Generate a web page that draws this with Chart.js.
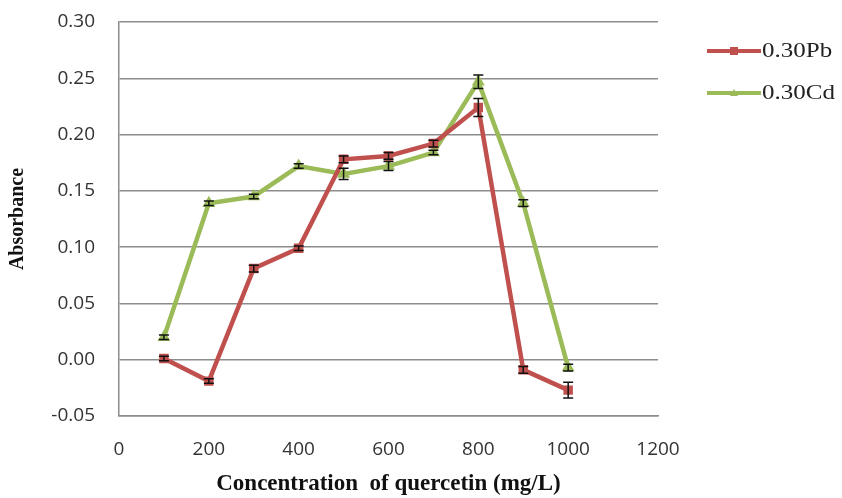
<!DOCTYPE html>
<html>
<head>
<meta charset="utf-8">
<script src="https://cdn.jsdelivr.net/npm/chart.js@4.4.1/dist/chart.umd.min.js"></script>
<style>
  html, body { margin: 0; padding: 0; background: #fff; }
  #wrap { width: 842px; height: 498px; }
</style>
</head>
<body>
<div id="wrap"><canvas id="myChart" width="842" height="498"></canvas></div>
<script>
// data
const concentrations = [100, 200, 300, 400, 500, 600, 700, 800, 900, 1000]
const pbValues = [0.001, -0.019, 0.081, 0.099, 0.178, 0.181, 0.192, 0.224, -0.009, -0.027]
const pbErrors = [0.002, 0.002, 0.003, 0.002, 0.003, 0.003, 0.003, 0.008, 0.003, 0.007]
const cdValues = [0.020, 0.139, 0.145, 0.172, 0.165, 0.172, 0.184, 0.247, 0.139, -0.007]
const cdErrors = [0.002, 0.002, 0.002, 0.002, 0.005, 0.004, 0.002, 0.006, 0.003, 0.003]
const seriesLabels = ['0.30Pb', '0.30Cd']

const red = '#c0504d'
const green = '#9bbb59'
const gridColor = '#8c8c8c'

const toPoints = (xs, ys) => xs.map((x, i) => ({ x, y: ys[i] }))

// error bars drawn with the chart's own scales
const errorBars = {
    id: 'errorBars',
    afterDatasetsDraw(chart) {
        const { ctx, scales: { x, y } } = chart;
        ctx.save();
        ctx.strokeStyle = '#111';
        ctx.lineWidth = 1.5;
        chart.data.datasets.forEach((ds) => {
            ds.data.forEach((p, i) => {
                const e = ds.errors[i];
                const px = x.getPixelForValue(p.x);
                const top = y.getPixelForValue(p.y + e);
                const bot = y.getPixelForValue(p.y - e);
                ctx.beginPath();
                ctx.moveTo(px, top); ctx.lineTo(px, bot);
                ctx.moveTo(px - 5, top); ctx.lineTo(px + 5, top);
                ctx.moveTo(px - 5, bot); ctx.lineTo(px + 5, bot);
                ctx.stroke();
            });
        });
        ctx.restore();
    }
}

// legend on the right, line + marker + text
const sideLegend = {
    id: 'sideLegend',
    afterDraw(chart) {
        const { ctx } = chart;
        const rows = [51, 93];
        ctx.save();
        chart.data.datasets.forEach((ds, i) => {
            const yy = rows[i];
            ctx.strokeStyle = ds.borderColor;
            ctx.lineWidth = 4;
            ctx.beginPath();
            ctx.moveTo(707, yy); ctx.lineTo(761, yy);
            ctx.stroke();
            ctx.fillStyle = ds.borderColor;
            if (ds.pointStyle === 'rect') {
                ctx.fillRect(730, yy - 4, 8, 8);
            } else {
                ctx.beginPath();
                ctx.moveTo(734, yy - 4); ctx.lineTo(738, yy + 3); ctx.lineTo(730, yy + 3);
                ctx.fill();
            }
            // text is a bit wide in the original
            ctx.save();
            ctx.translate(762, yy + 1);
            ctx.scale(1.25, 1);
            ctx.fillStyle = '#222';
            ctx.font = '20px "Liberation Serif"';
            ctx.textBaseline = 'middle';
            ctx.fillText(ds.label, 0, 0);
            ctx.restore();
        });
        ctx.restore();
    }
}

const ctx = document.getElementById('myChart').getContext('2d');

const config = {
    type: 'line',
    data: {
        datasets: [
            {
                label: seriesLabels[0],
                data: toPoints(concentrations, pbValues),
                errors: pbErrors,
                borderColor: red,
                backgroundColor: red,
                borderWidth: 4.5,
                pointStyle: 'rect',
                pointRadius: 3.5,
                tension: 0
            },
            {
                label: seriesLabels[1],
                data: toPoints(concentrations, cdValues),
                errors: cdErrors,
                borderColor: green,
                backgroundColor: green,
                borderWidth: 4.5,
                pointStyle: 'triangle',
                pointRadius: 3,
                tension: 0
            }
        ]
    },
    options: {
        responsive: false,
        animation: false,
        layout: { padding: { left: 0, right: 184, top: 22, bottom: 0 } },
        plugins: { legend: { display: false }, tooltip: { enabled: false } },
        scales: {
            x: {
                type: 'linear',
                min: 0,
                max: 1200,
                ticks: {
                    stepSize: 200,
                    padding: 22,
                    color: '#333',
                    font: { family: '"Open Sans"', size: 19 },
                    callback: (v) => String(v)
                },
                grid: { display: false, drawTicks: false },
                border: { display: true, color: gridColor, width: 1.5 },
                title: {
                    display: true,
                    text: 'Concentration  of quercetin (mg/L)',
                    color: '#111',
                    font: { family: '"Liberation Serif"', size: 23, weight: 'bold' },
                    padding: { top: 0, bottom: 0 }
                },
                afterFit: (s) => { s.height = 82; }
            },
            y: {
                min: -0.05,
                max: 0.30,
                ticks: {
                    stepSize: 0.05,
                    padding: 24,
                    color: '#333',
                    font: { family: '"Open Sans"', size: 19 },
                    callback: (v) => (Math.abs(v) < 1e-9 ? 0 : v).toFixed(2)
                },
                grid: { color: gridColor, lineWidth: 1.5, drawTicks: false },
                border: { display: true, color: gridColor, width: 1.5 },
                title: {
                    display: true,
                    text: 'Absorbance',
                    color: '#111',
                    font: { family: '"Liberation Serif"', size: 20, weight: 'bold' },
                    padding: { top: 6, bottom: 0 }
                },
                afterFit: (s) => {
                    s.width = 119;
                    // the tick padding should not push the plot down
                    s.paddingTop = 0;
                    s.paddingBottom = 0;
                }
            }
        }
    },
    plugins: [errorBars, sideLegend]
};

const chart = new Chart(ctx, config);
</script>
</body>
</html>
